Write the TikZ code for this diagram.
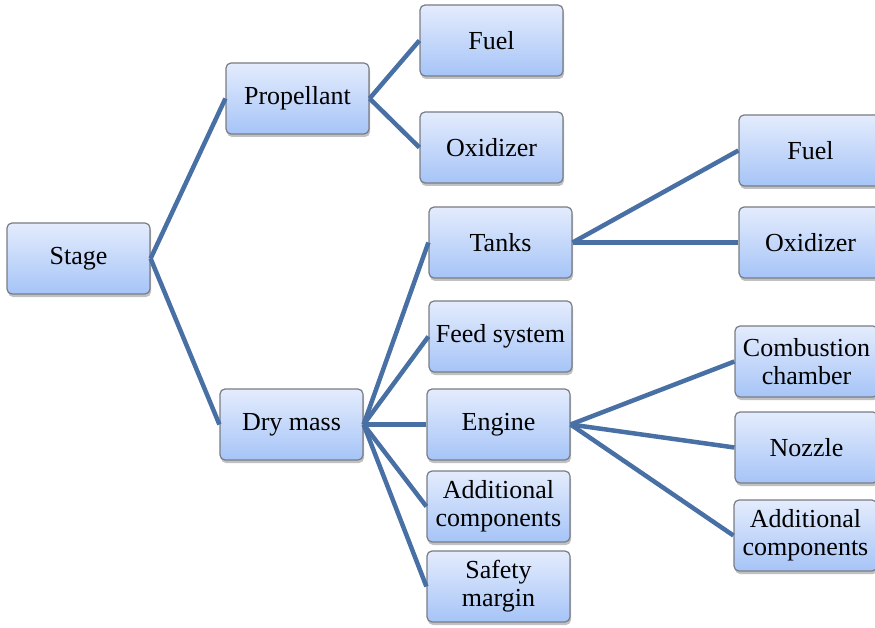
\documentclass[tikz,border=0pt]{standalone}
\usepackage{fontspec}
\setmainfont{Liberation Serif}
\newfontfamily\boxfont{Liberation Serif}
\usetikzlibrary{shadows}
\definecolor{boxtop}{RGB}{228,236,253}
\definecolor{boxbot}{RGB}{166,196,247}
\definecolor{boxedge}{RGB}{120,124,132}
\definecolor{linkcol}{RGB}{72,112,165}
\tikzset{
  box/.style={draw=boxedge, line width=1.2pt, rounded corners=5pt,
    top color=boxtop, bottom color=boxbot,
    minimum width=143pt, minimum height=71pt, inner sep=0pt,
    align=center, font=\boxfont\fontsize{26}{28}\selectfont,
    drop shadow={shadow xshift=1pt, shadow yshift=-3pt, opacity=0.35, fill=black!70}},
  link/.style={draw=linkcol, line width=4.5pt}
}
\begin{document}
\begin{tikzpicture}[x=1pt,y=-1pt]
\useasboundingbox (0,0) rectangle (875,628);
\clip (0,0) rectangle (875,628);
\node[box] (stage) at (78.5,258.5) {Stage};
\node[box] (prop) at (297.5,98.5) {Propellant};
\node[box] (fuel1) at (491.5,40.5) {Fuel};
\node[box] (oxi1) at (491.5,147.5) {Oxidizer};
\node[box] (dry) at (291.5,424.5) {Dry mass};
\node[box] (tanks) at (500.5,242.5) {Tanks};
\node[box] (feed) at (500.5,336.5) {Feed system};
\node[box] (engine) at (498.5,424.5) {Engine};
\node[box] (addc) at (498.5,506.5) {Additional\\components};
\node[box] (safety) at (498.5,586.5) {Safety\\margin};
\node[box] (fuel2) at (810.5,150.5) {Fuel};
\node[box] (oxi2) at (810.5,242.5) {Oxidizer};
\node[box] (comb) at (806.5,361.5) {Combustion\\chamber};
\node[box] (nozzle) at (806.5,447.5) {Nozzle};
\node[box] (addr) at (805.5,535.5) {Additional\\components};
\draw[link] (stage.east) -- (prop.west);
\draw[link] (stage.east) -- (dry.west);
\draw[link] (prop.east) -- (fuel1.west);
\draw[link] (prop.east) -- (oxi1.west);
\draw[link] (dry.east) -- (tanks.west);
\draw[link] (dry.east) -- (feed.west);
\draw[link] (dry.east) -- (engine.west);
\draw[link] (dry.east) -- (addc.west);
\draw[link] (dry.east) -- (safety.west);
\draw[link] (tanks.east) -- (fuel2.west);
\draw[link] (tanks.east) -- (oxi2.west);
\draw[link] (engine.east) -- (comb.west);
\draw[link] (engine.east) -- (nozzle.west);
\draw[link] (engine.east) -- (addr.west);
\end{tikzpicture}
\end{document}
